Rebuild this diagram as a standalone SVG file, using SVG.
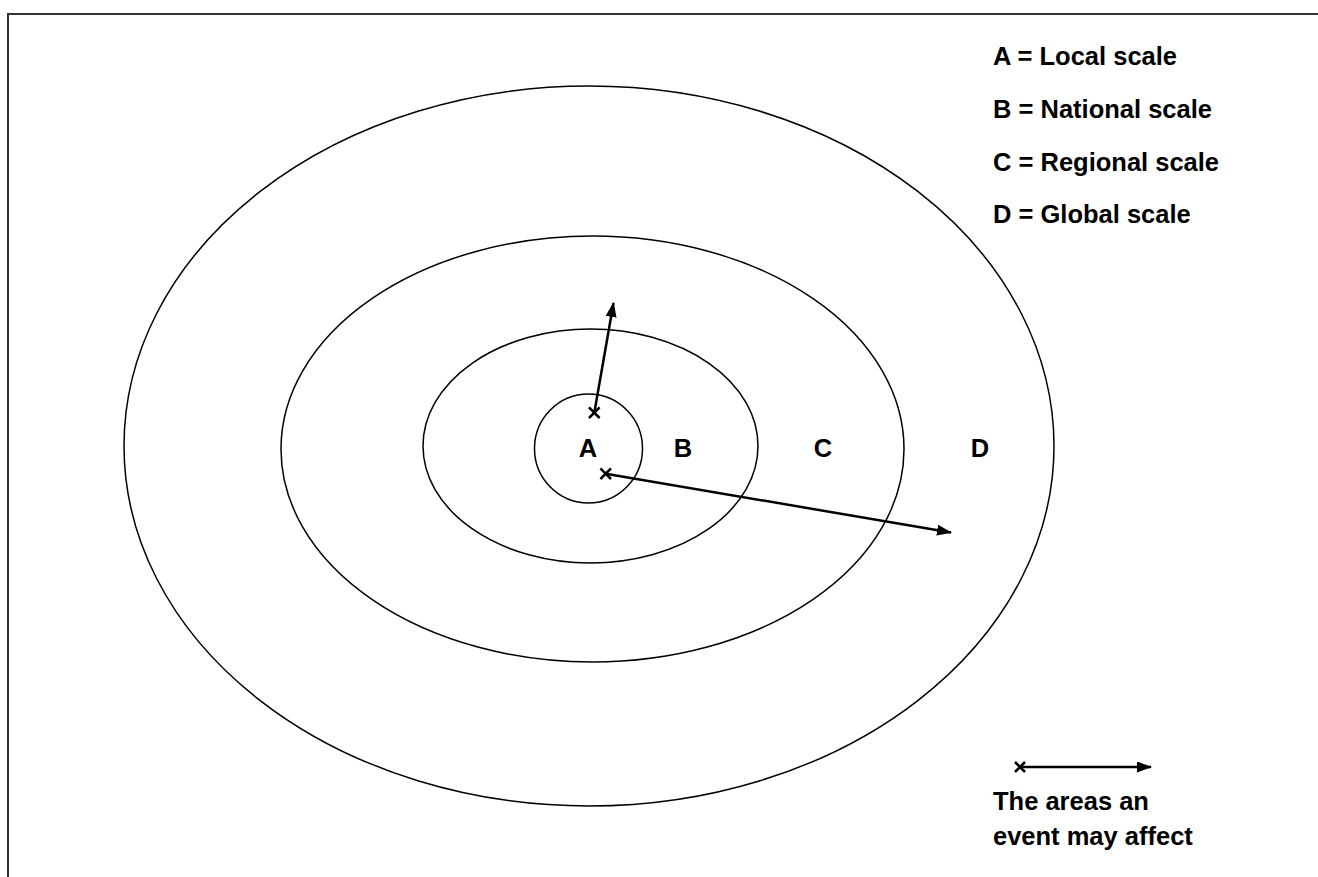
<svg xmlns="http://www.w3.org/2000/svg" width="1318" height="877" viewBox="0 0 1318 877">
<style>
.ring{fill:none;stroke:#000;stroke-width:1.5}
.arr{fill:none;stroke:#000;stroke-width:2.5}
.x{fill:none;stroke:#000;stroke-width:2.5}
.t{font-family:"Liberation Sans",Arial,sans-serif;font-weight:bold;font-size:25.5px;fill:#000}
.lbl{font-family:"Liberation Sans",Arial,sans-serif;font-weight:bold;font-size:25.5px;fill:#000;text-anchor:middle}
</style>
<defs>
<marker id="ah" viewBox="0 0 15 11" refX="14" refY="5.5" markerWidth="6" markerHeight="4.4" markerUnits="strokeWidth" orient="auto">
<path d="M0,0 L15,5.5 L0,11 Z" fill="#000"/>
</marker>
</defs>
<rect width="1318" height="877" fill="#fff"/>
<path d="M8,877 V14 H1318" fill="none" stroke="#333" stroke-width="2"/>
<g id="ringD"><ellipse class="ring" cx="589" cy="446" rx="465" ry="360"/><text class="lbl" x="980" y="457">D</text></g>
<g id="ringC"><ellipse class="ring" cx="592.5" cy="449" rx="311.5" ry="213"/><text class="lbl" x="823" y="457">C</text></g>
<g id="ringB"><ellipse class="ring" cx="590.5" cy="446" rx="167.5" ry="117"/><text class="lbl" x="683" y="457">B</text></g>
<g id="ringA"><ellipse class="ring" cx="588.5" cy="448.5" rx="54" ry="54.5"/><text class="lbl" x="588" y="457">A</text></g>
<g id="connectors">
<line class="arr" x1="594.3" y1="412.7" x2="613.5" y2="303" marker-end="url(#ah)"/>
<path class="x" d="M589,407.4 L599.6,418 M599.6,407.4 L589,418"/>
<line class="arr" x1="605.7" y1="473.7" x2="951" y2="532.5" marker-end="url(#ah)"/>
<path class="x" d="M600.4,468.4 L611,479 M611,468.4 L600.4,479"/>
<line class="arr" x1="1020" y1="767" x2="1151" y2="767" marker-end="url(#ah)"/>
<path class="x" d="M1015,762 L1025,772 M1025,762 L1015,772"/>
</g>
<g id="legend">
<text class="t" x="993" y="65">A = Local scale</text>
<text class="t" x="993" y="118">B = National scale</text>
<text class="t" x="993" y="171">C = Regional scale</text>
<text class="t" x="993" y="223">D = Global scale</text>
<text class="t" x="993" y="810">The areas an</text>
<text class="t" x="993" y="845">event may affect</text>
</g>
</svg>
